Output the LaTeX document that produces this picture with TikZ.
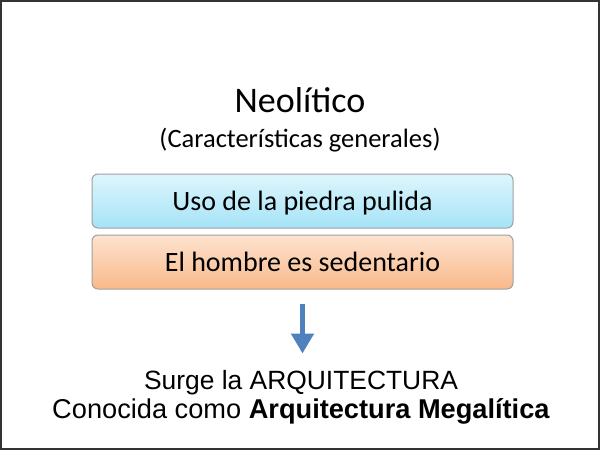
\documentclass[tikz,border=0pt]{standalone}
\usepackage{fontspec}
\setmainfont{Carlito}
\newfontfamily\arialfont{Liberation Sans}
\usetikzlibrary{arrows.meta, positioning}

\definecolor{framegray}{HTML}{333333}
\definecolor{boxedge}{HTML}{A0A0A0}
\definecolor{cyantop}{HTML}{DDF6FC}
\definecolor{cyanbot}{HTML}{A5E3F7}
\definecolor{orangetop}{HTML}{FDE3D0}
\definecolor{orangebot}{HTML}{F9B98A}
\definecolor{arrowblue}{HTML}{4F81BD}

\begin{document}
\begin{tikzpicture}[
    x=1pt, y=-1pt,
    >=Stealth,
    feature/.style={rounded corners=6pt, draw=boxedge, line width=1pt,
        minimum width=421pt, minimum height=54pt, inner sep=0pt,
        text height=22pt, text depth=4pt,
        font=\fontsize{28}{32}\selectfont},
    bottomtext/.style={anchor=base, font=\arialfont\fontsize{26.4}{30}\selectfont}
]

% Frame ------------------------------------------------------

\draw[framegray, line width=2pt] (1,1) rectangle (599,449);

% Nodes ------------------------------------------------------

\node[anchor=base, font=\fontsize{36}{40}\selectfont] (title) at (300,112) {Neolítico};
\node[anchor=base, font=\fontsize{26.5}{30}\selectfont] (subtitle) at (300,147) {(Características generales)};

\node[feature, top color=cyantop, bottom color=cyanbot] (piedra) at (302.5,201) {Uso de la piedra pulida};
\node[feature, top color=orangetop, bottom color=orangebot, below=6pt of piedra] (sedentario) {El hombre es sedentario};

\coordinate[below=14pt of sedentario] (arrowtop);
\coordinate[below=50pt of arrowtop] (arrowtip);

\node[bottomtext] (surge) at (301,389) {Surge la ARQUITECTURA};
\node[bottomtext, font=\arialfont\fontsize{27.2}{30}\selectfont] (conocida) at (301,418) {Conocida como \textbf{Arquitectura Megalítica}};

% Arrows ---------------------------------------------------

\draw[-{Triangle[width=22pt, length=20pt]}, line width=5pt, arrowblue] (arrowtop) -- (arrowtip);

\end{tikzpicture}
\end{document}
